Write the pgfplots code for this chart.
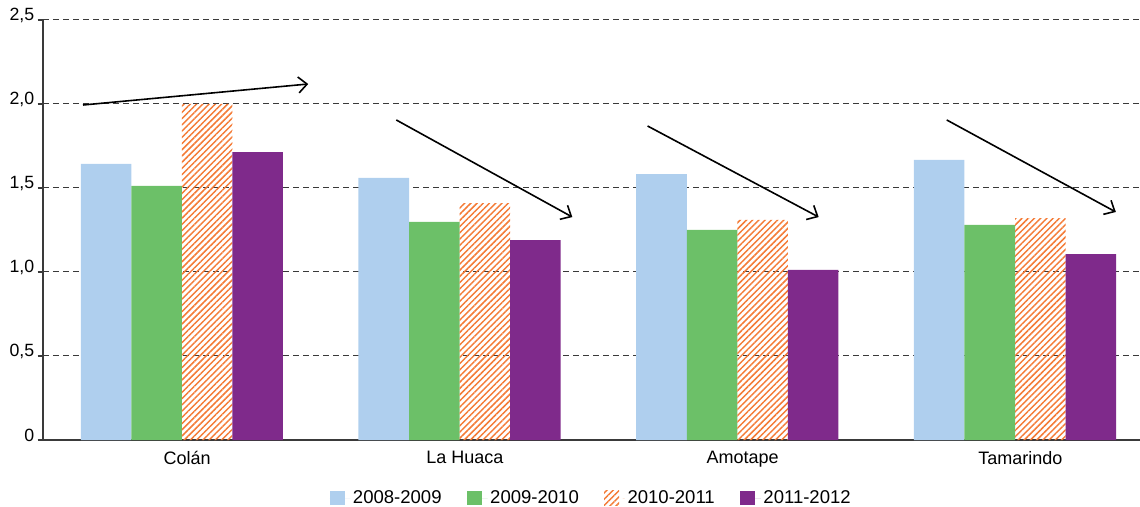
\documentclass[border=0pt]{standalone}
\usepackage{pgfplots}
\pgfplotsset{compat=1.18}
\usepackage{fontspec}
\setmainfont{Liberation Sans}
\usetikzlibrary{patterns.meta, arrows.meta}
\definecolor{cblue}{HTML}{AFCFEE}
\definecolor{cgreen}{HTML}{6CC068}
\definecolor{corange}{HTML}{F47B36}
\definecolor{cpurple}{HTML}{7F2A8B}
\definecolor{axgray}{HTML}{3A3A3A}
\begin{document}
\begin{tikzpicture}
\begin{axis}[
  scale only axis,
  width=822.75pt, height=315pt,
  xmin=-0.5, xmax=3.45,
  ymin=0, ymax=2.5,
  ybar=0pt, bar width=0.182,
  axis x line=bottom, axis y line=left,
  axis line style={-, axgray, line width=0.8pt},
  xtick={0,1,2,3},
  xticklabels={Colán, La Huaca, Amotape, Tamarindo},
  x tick style={draw=none},
  extra x ticks={-0.5,0.5,1.5,2.5},
  extra x tick labels={},
  extra x tick style={major tick length=4pt, tick align=outside, tick style={axgray, line width=0.8pt}, grid=none},
  xticklabel style={font=\fontsize{13.5}{15}\selectfont, yshift=-1pt, xshift=4pt},
  ytick={0,0.5,1,1.5,2,2.5},
  yticklabels={0,{0,5},{1,0},{1,5},{2,0},{2,5}},
  yticklabel style={font=\fontsize{13.3}{15}\selectfont, yshift=3.5pt, xshift=1pt},
  y tick style={axgray, line width=0.8pt},
  tick align=outside, major tick length=4pt,
  ymajorgrids,
  grid style={axgray, dash pattern=on 4.5pt off 3pt, line width=0.75pt},
  legend columns=-1,
  legend style={at={(axis description cs:0.5,0)}, anchor=center, yshift=-43.5pt,
    draw=none, font=\fontsize{13.9}{15}\selectfont, inner sep=0pt,
    /tikz/every even column/.append style={column sep=17pt}},
  legend image code/.code={\fill[#1, draw=none] (0pt,-5.6pt) rectangle (11.25pt,5.6pt); \path (0pt,0pt) -- (15.5pt,0pt);},
]
\addplot[fill=cblue, draw=none] coordinates {(0,1.643) (1,1.56) (2,1.583) (3,1.667)};
\addplot[fill=cgreen, draw=none] coordinates {(0,1.512) (1,1.298) (2,1.25) (3,1.28)};
\addplot[pattern={Lines[angle=45, distance=3.3pt, line width=1.1pt]}, pattern color=corange, draw=none] coordinates {(0,2.0) (1,1.41) (2,1.31) (3,1.32)};
\addplot[fill=cpurple, draw=none] coordinates {(0,1.714) (1,1.19) (2,1.012) (3,1.107)};
\legend{2008-2009, 2009-2010, 2010-2011, 2011-2012}
\draw[line width=1.2pt, -{Straight Barb[length=6.5pt, width=12pt]}] (axis cs:-0.356,1.994) -- (axis cs:0.455,2.119);
\draw[line width=1.2pt, -{Straight Barb[length=6.5pt, width=12pt]}] (axis cs:0.772,1.905) -- (axis cs:1.406,1.327);
\draw[line width=1.2pt, -{Straight Barb[length=6.5pt, width=12pt]}] (axis cs:1.677,1.869) -- (axis cs:2.293,1.327);
\draw[line width=1.2pt, -{Straight Barb[length=6.5pt, width=12pt]}] (axis cs:2.754,1.905) -- (axis cs:3.363,1.357);
\end{axis}
\pgfresetboundingbox
\useasboundingbox ([shift={(-32.25pt,-49.5pt)}]current axis.south west) rectangle ([shift={(0pt,15pt)}]current axis.north east);
\end{tikzpicture}
\end{document}
